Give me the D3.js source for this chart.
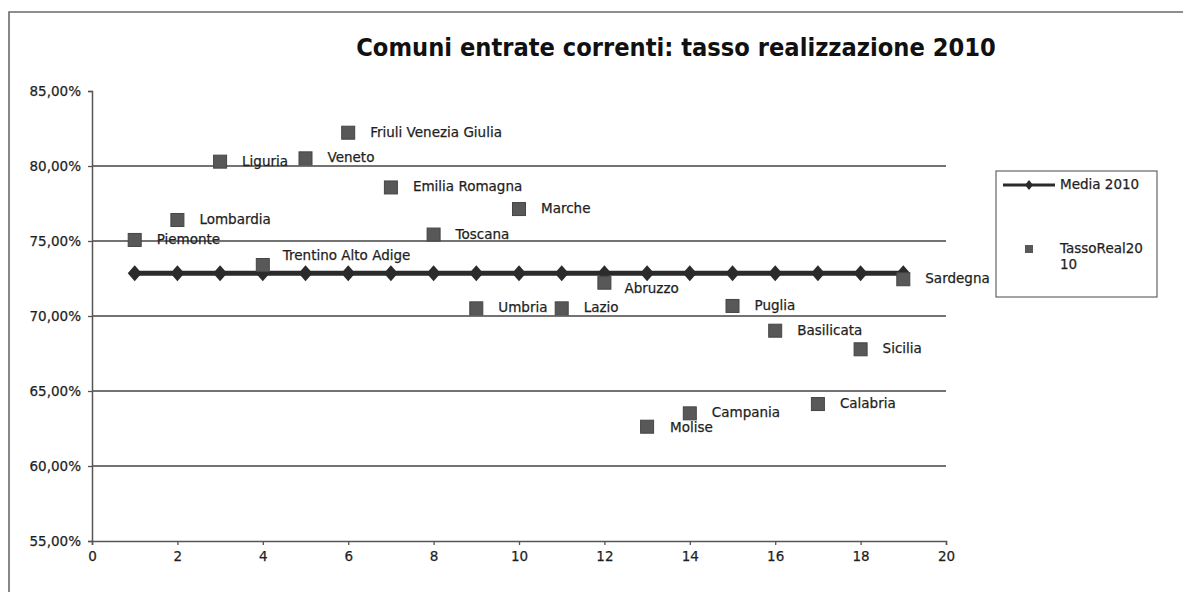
<!DOCTYPE html>
<html>
<head>
<meta charset="utf-8">
<script src="https://cdn.jsdelivr.net/npm/d3@7"></script>
<style>
  html, body { margin: 0; padding: 0; background: #fff; }
  svg { display: block; }
</style>
</head>
<body>
<svg id="chart" width="1183" height="592"></svg>
<script>
// ---- data ----
const regions = ["Piemonte","Lombardia","Liguria","Trentino Alto Adige","Veneto","Friuli Venezia Giulia","Emilia Romagna","Toscana","Umbria","Marche","Lazio","Abruzzo","Molise","Campania","Puglia","Basilicata","Calabria","Sicilia","Sardegna"];
const xIndex = [1,2,3,4,5,6,7,8,9,10,11,12,13,14,15,16,17,18,19];
const tassoReal2010 = [75.07,76.40,80.29,73.40,80.51,82.22,78.57,75.43,70.51,77.13,70.51,72.22,62.62,63.51,70.67,69.02,64.13,67.78,72.45];
const media2010 = [72.85,72.85,72.85,72.85,72.85,72.85,72.85,72.85,72.85,72.85,72.85,72.85,72.85,72.85,72.85,72.85,72.85,72.85,72.85];
const yTicks = [55,60,65,70,75,80,85];
const xTicks = [0,2,4,6,8,10,12,14,16,18,20];
const gridValues = [60,65,70,75,80];
const titleText = "Comuni entrate correnti: tasso realizzazione 2010";
const legendLabels = ["Media 2010", ["TassoReal20", "10"]];

// ---- layout ----
const svg = d3.select("#chart");
const x = d3.scaleLinear().domain([0, 20]).range([92, 946]);
const y = d3.scaleLinear().domain([55, 85]).range([541, 91]);
const font = "'DejaVu Sans', Verdana, sans-serif";
const textColor = "#1f1f1f";

// frame (partially cropped)
svg.append("path")
  .attr("d", "M9,592 L9,12 L1183,12")
  .attr("fill", "none").attr("stroke", "#6a6a6a").attr("stroke-width", 1.6);

// title
const title = svg.append("text")
  .attr("x", 676).attr("y", 49)
  .attr("text-anchor", "middle").attr("dominant-baseline", "middle")
  .attr("font-family", "'DejaVu Sans Condensed', 'DejaVu Sans', sans-serif").attr("font-weight", "bold")
  .attr("font-size", 20).attr("fill", "#111")
  .text(titleText);
const tw = title.node().getComputedTextLength();
title.attr("font-size", 20 * 640 / tw);

// gridlines
svg.append("g").selectAll("line").data(gridValues).join("line")
  .attr("x1", x(0)).attr("x2", x(20))
  .attr("y1", d => y(d)).attr("y2", d => y(d))
  .attr("stroke", "#444").attr("stroke-width", 1.5);

// axes
const fmt = d => d3.format(".2f")(d).replace(".", ",") + "%";
const yAxis = svg.append("g").attr("transform", `translate(${x(0)},0)`)
  .call(d3.axisLeft(y).tickValues(yTicks).tickFormat(fmt).tickSize(4).tickPadding(7));
const xAxis = svg.append("g").attr("transform", `translate(0,${y(55)})`)
  .call(d3.axisBottom(x).tickValues(xTicks).tickSize(4).tickPadding(6));
[yAxis, xAxis].forEach(g => {
  g.attr("font-size", null);
  g.select(".domain").attr("stroke", "#555").attr("stroke-width", 1.5);
  g.selectAll(".tick line").attr("stroke", "#555").attr("stroke-width", 1.3);
  g.selectAll("text").attr("font-family", font).attr("font-size", 13.5)
    .attr("fill", textColor).attr("stroke", textColor).attr("stroke-width", 0.25);
});

// media line
const mediaData = xIndex.map((d, i) => ({ x: d, v: media2010[i] }));
svg.append("path").datum(mediaData)
  .attr("d", d3.line().x(d => x(d.x)).y(d => y(d.v)))
  .attr("fill", "none").attr("stroke", "#2b2b2b").attr("stroke-width", 5);
const diamondPath = (hw, hh) => `M0,${-hh}L${hw},0L0,${hh}L${-hw},0Z`;
svg.append("g").selectAll("path").data(mediaData).join("path")
  .attr("d", diamondPath(7, 8))
  .attr("transform", d => `translate(${x(d.x)},${y(d.v)})`)
  .attr("fill", "#2b2b2b");

// scatter points
const pts = regions.map((r, i) => ({ name: r, x: xIndex[i], v: tassoReal2010[i] }));
const sq = 13;
svg.append("g").selectAll("rect").data(pts).join("rect")
  .attr("x", d => x(d.x) - sq / 2).attr("y", d => y(d.v) - sq / 2)
  .attr("width", sq).attr("height", sq)
  .attr("fill", "#585858").attr("stroke", "#454545").attr("stroke-width", 1);

// labels
const labelShift = { "Trentino Alto Adige": [20, -9], "Abruzzo": [20, 6], "Molise": [23, 1] };
svg.append("g").selectAll("text").data(pts).join("text")
  .attr("x", d => x(d.x) + (labelShift[d.name] ? labelShift[d.name][0] : 22))
  .attr("y", d => y(d.v) + (labelShift[d.name] ? labelShift[d.name][1] : 0))
  .attr("dominant-baseline", "middle")
  .attr("font-family", font).attr("font-size", 13.5).attr("fill", textColor)
  .attr("stroke", textColor).attr("stroke-width", 0.25)
  .text(d => d.name);

// legend
const lg = svg.append("g");
lg.append("rect").attr("x", 996).attr("y", 171).attr("width", 161).attr("height", 126)
  .attr("fill", "#fff").attr("stroke", "#666").attr("stroke-width", 1.2);
lg.append("line").attr("x1", 1003).attr("x2", 1055).attr("y1", 185).attr("y2", 185)
  .attr("stroke", "#2b2b2b").attr("stroke-width", 3);
lg.append("path").attr("d", diamondPath(4, 5))
  .attr("transform", "translate(1029,185)").attr("fill", "#2b2b2b");
lg.append("text").attr("x", 1060).attr("y", 185).attr("dominant-baseline", "middle")
  .attr("font-family", font).attr("font-size", 13.5).attr("fill", textColor)
  .attr("stroke", textColor).attr("stroke-width", 0.25)
  .text(legendLabels[0]);
lg.append("rect").attr("x", 1025).attr("y", 245).attr("width", 8).attr("height", 8)
  .attr("fill", "#585858");
lg.append("text").attr("font-family", font).attr("font-size", 13.5).attr("fill", textColor)
  .attr("stroke", textColor).attr("stroke-width", 0.25)
  .selectAll("tspan").data(legendLabels[1]).join("tspan")
  .attr("x", 1060).attr("y", (d, i) => 249 + i * 16).attr("dominant-baseline", "middle")
  .text(d => d);
</script>
</body>
</html>
